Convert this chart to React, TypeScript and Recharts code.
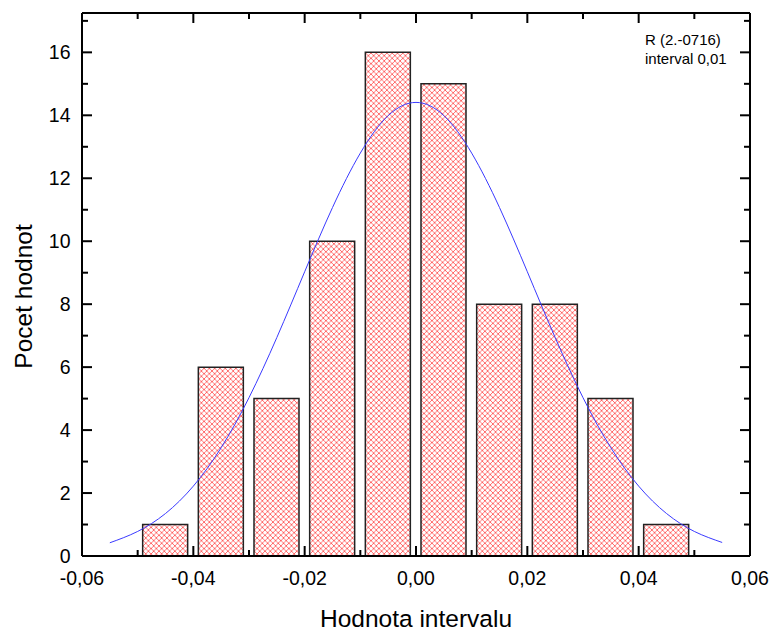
import React from 'react';
import { ComposedChart, Bar, Line, XAxis, YAxis } from 'recharts';

// Histogram bins (centre of interval) and counts
const binCenters = [-0.045, -0.035, -0.025, -0.015, -0.005, 0.005, 0.015, 0.025, 0.035, 0.045];
const binCounts = [1, 6, 5, 10, 16, 15, 8, 8, 5, 1];

// Fitted curve
const fitX = [-0.055, -0.05, -0.045, -0.04, -0.035, -0.03, -0.025, -0.02, -0.015, -0.01, -0.005, 0, 0.005, 0.01, 0.015, 0.02, 0.025, 0.03, 0.035, 0.04, 0.045, 0.05, 0.055];
const fitY = [0.42, 0.78, 1.35, 2.22, 3.44, 5.03, 6.94, 9.03, 11.07, 12.8, 13.99, 14.41, 13.99, 12.8, 11.07, 9.03, 6.94, 5.03, 3.44, 2.22, 1.35, 0.78, 0.43];

const xTicks = [-0.06, -0.05, -0.04, -0.03, -0.02, -0.01, 0, 0.01, 0.02, 0.03, 0.04, 0.05, 0.06];
const yTicks = [0, 1, 2, 3, 4, 5, 6, 7, 8, 9, 10, 11, 12, 13, 14, 15, 16, 17];
const xDomain = [-0.06, 0.06];
const yDomain = [0, 17.25];

const xTitle = 'Hodnota intervalu';
const yTitle = 'Pocet hodnot';
const noteLines = ['R (2.-0716)', 'interval 0,01'];

const barData = binCenters.map((x, i) => ({ x, count: binCounts[i] }));
const fitData = fitX.map((x, i) => ({ x, fit: fitY[i] }));

const FONT = '"Liberation Sans", Arial, sans-serif';
const isMajorX = (v: number) => Math.round(v * 100) % 2 === 0;
const isMajorY = (v: number) => Math.round(v) % 2 === 0;
const fmtX = (v: number) => {
  const r = Math.round(v * 100) / 100;
  const s = Math.abs(r).toFixed(2).replace('.', ',');
  return (r < 0 ? '-' : '') + s;
};

// plot frame edges (page pixels)
const PLOT_LEFT = 82;
const PLOT_RIGHT = 750;
const PLOT_TOP = 13;
const PLOT_BOTTOM = 556;

const BottomTick = (props: any) => {
  const { x, payload } = props;
  const major = isMajorX(payload.value);
  const y = PLOT_BOTTOM;
  return (
    <g>
      <line x1={x} x2={x} y1={y} y2={y - (major ? 10 : 6)} stroke="#000" strokeWidth={2} />
      {major && (
        <text x={x} y={y + 29} textAnchor="middle" fontSize={19.5} fontFamily={FONT} fill="#000">
          {fmtX(payload.value)}
        </text>
      )}
    </g>
  );
};

const TopTick = (props: any) => {
  const { x, payload } = props;
  const major = isMajorX(payload.value);
  const y = PLOT_TOP;
  return <line x1={x} x2={x} y1={y} y2={y + (major ? 10 : 6)} stroke="#000" strokeWidth={2} />;
};

const LeftTick = (props: any) => {
  const { y, payload } = props;
  const major = isMajorY(payload.value);
  const x = PLOT_LEFT;
  return (
    <g>
      <line x1={x} x2={x + (major ? 10 : 6)} y1={y} y2={y} stroke="#000" strokeWidth={2} />
      {major && (
        <text x={x - 11.5} y={y + 7} textAnchor="end" fontSize={19.5} fontFamily={FONT} fill="#000">
          {payload.value}
        </text>
      )}
    </g>
  );
};

const RightTick = (props: any) => {
  const { y, payload } = props;
  const major = isMajorY(payload.value);
  const x = PLOT_RIGHT;
  return <line x1={x} x2={x - (major ? 10 : 6)} y1={y} y2={y} stroke="#000" strokeWidth={2} />;
};

const XTitle = (props: any) => {
  const vb = props.viewBox;
  return (
    <text x={vb.x + vb.width / 2} y={627} textAnchor="middle" fontSize={24.5} fontFamily={FONT} fill="#000">
      {xTitle}
    </text>
  );
};

const YTitle = () => {
  const cx = 23.5;
  const cy = 296.5;
  return (
    <text x={cx} y={cy} transform={`rotate(-90, ${cx}, ${cy})`} textAnchor="middle" dominantBaseline="central" fontSize={24.5} fontFamily={FONT} fill="#000">
      {yTitle}
    </text>
  );
};

const axisLine = { stroke: '#000', strokeWidth: 2 };

export default function App() {
  return (
    <div style={{ position: 'absolute', left: 0, top: 0, width: 774, height: 632, background: '#fff' }}>
      <svg width={0} height={0} style={{ position: 'absolute' }}>
        <defs>
          <pattern id="hatch" patternUnits="userSpaceOnUse" width={5.3} height={5.3}>
            <rect x={0} y={0} width={5.3} height={5.3} fill="#fff" />
            <path d="M0,0 L5.3,5.3 M5.3,0 L0,5.3" stroke="#ff5050" strokeWidth={0.8} />
          </pattern>
        </defs>
      </svg>
      <ComposedChart width={774} height={632} data={barData} margin={{ top: PLOT_TOP - 1, right: 774 - PLOT_RIGHT - 1, bottom: 0, left: 0 }}>
        <XAxis
          xAxisId="bottom"
          type="number"
          dataKey="x"
          domain={xDomain}
          ticks={xTicks}
          allowDataOverflow
          height={632 - PLOT_BOTTOM}
          tickSize={0}
          tickMargin={0}
          tickLine={false}
          axisLine={axisLine}
          tick={<BottomTick />}
          interval={0}
          label={{ content: <XTitle /> } as any}
        />
        <XAxis
          xAxisId="top"
          orientation="top"
          type="number"
          dataKey="x"
          domain={xDomain}
          ticks={xTicks}
          allowDataOverflow
          height={1}
          tickSize={0}
          tickMargin={0}
          tickLine={false}
          axisLine={axisLine}
          tick={<TopTick />}
          interval={0}
        />
        <XAxis xAxisId="fit" type="number" dataKey="x" domain={xDomain} allowDataOverflow hide />
        <YAxis
          yAxisId="left"
          type="number"
          domain={yDomain}
          ticks={yTicks}
          allowDataOverflow
          width={PLOT_LEFT}
          tickSize={0}
          tickMargin={0}
          tickLine={false}
          axisLine={axisLine}
          tick={<LeftTick />}
          interval={0}
          label={{ content: <YTitle /> } as any}
        />
        <YAxis
          yAxisId="right"
          orientation="right"
          type="number"
          domain={yDomain}
          ticks={yTicks}
          allowDataOverflow
          width={1}
          tickSize={0}
          tickMargin={0}
          tickLine={false}
          axisLine={axisLine}
          tick={<RightTick />}
          interval={0}
        />
        <Bar
          xAxisId="bottom"
          yAxisId="left"
          dataKey="count"
          barSize={45}
          fill="url(#hatch)"
          stroke="#222"
          strokeWidth={1.5}
          isAnimationActive={false}
        />
        <Line
          xAxisId="fit"
          yAxisId="left"
          data={fitData}
          dataKey="fit"
          type="natural"
          stroke="#3a3aff"
          strokeWidth={1}
          dot={false}
          activeDot={false}
          isAnimationActive={false}
        />
      </ComposedChart>
      <div style={{ position: 'absolute', left: 645, top: 30, fontFamily: FONT, fontSize: 15, lineHeight: '19px', color: '#000' }}>
        {noteLines.map((t) => (
          <div key={t}>{t}</div>
        ))}
      </div>
    </div>
  );
}
